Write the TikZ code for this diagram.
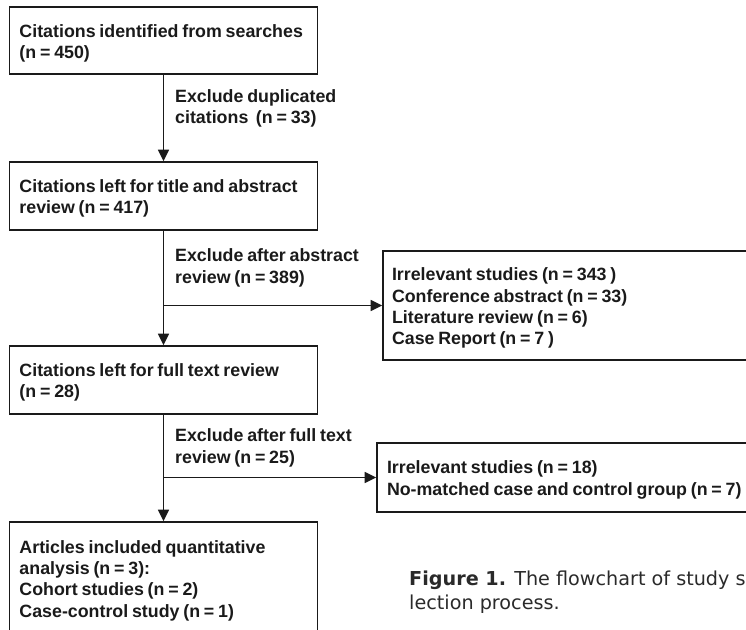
\documentclass[tikz,border=0pt]{standalone}
\usepackage{fontspec}
\setmainfont{Liberation Sans}[WordSpace=0.77]
\newfontfamily\capfont{DejaVu Sans}
\usetikzlibrary{arrows.meta,calc}
\definecolor{ink}{HTML}{1A1A1A}
\definecolor{capink}{HTML}{2A2A2A}
\begin{document}
\begin{tikzpicture}[x=1pt,y=-1pt]
\tikzset{
  box/.style={draw=ink, line width=1.6pt, align=left, inner xsep=10pt, inner ysep=0pt,
    font=\bfseries\fontsize{17.8}{21.3}\selectfont, text=ink,
    execute at begin node={\hyphenpenalty=10000\spaceskip=\fontdimen2\font
      \xspaceskip=\fontdimen2\font\rule{0pt}{18pt}}},
  lbl/.style={align=left, inner sep=0pt, anchor=base west,
    font=\bfseries\fontsize{17.8}{21.5}\selectfont, text=ink},
  arr/.style={line width=1.6pt, draw=ink, -{Triangle[length=11.5pt,width=11pt]}},
}
\useasboundingbox (0,0) rectangle (746,629);
\clip (0,0) rectangle (746,629);

\node[box, text width=288pt, minimum height=67pt] (b1) at (163.5,40.5)
  {\mbox{Citations identified from searches}\\(n = 450)};
\node[box, text width=288pt, minimum height=68pt] (b2) at (163.5,196)
  {\mbox{Citations left for title and abstract}\\review (n = 417)};
\node[box, text width=288pt, minimum height=68pt] (b3) at (163.5,380)
  {Citations left for full text review\\(n = 28)};
\node[box, text width=288pt, minimum height=112pt] (b6) at (163.5,578)
  {Articles included quantitative\\analysis (n = 3):\\Cohort studies (n = 2)\\Case-control study (n = 1)};
\node[box, inner xsep=9pt, text width=372pt, minimum height=109pt] (b4) at (578,305.5)
  {Irrelevant studies (n = 343 )\\Conference abstract (n = 33)\\Literature review (n = 6)\\Case Report (n = 7 )};
\node[box, text width=380pt, minimum height=69pt] (b5) at (577,477.5)
  {Irrelevant studies (n = 18)\\\mbox{No-matched case and control group (n = 7)}};

\node[lbl] (l1) at (175,123.5) {Exclude duplicated\\citations\ \ (n = 33)};
\node[lbl] (l2) at (175,283) {Exclude after abstract\\review (n = 389)};
\node[lbl] (l3) at (175,463) {Exclude after full text\\review (n = 25)};

\draw[arr] (b1.south) -- (b2.north);
\draw[arr] (b2.south) -- (b3.north);
\coordinate (j1) at (b2.south |- b4.west);
\draw[arr] (j1) -- (b4.west);
\draw[arr] (b3.south) -- (b6.north);
\coordinate (j2) at (b3.south |- b5.west);
\draw[arr] (j2) -- (b5.west);

\node[anchor=base west, inner sep=0pt, align=left, text=capink,
  font=\capfont\fontsize{19.2}{24.5}\selectfont] (cap) at (409,609.5)
  {\textbf{Figure 1.} The flowchart of study s\\lection process.};
\end{tikzpicture}
\end{document}
